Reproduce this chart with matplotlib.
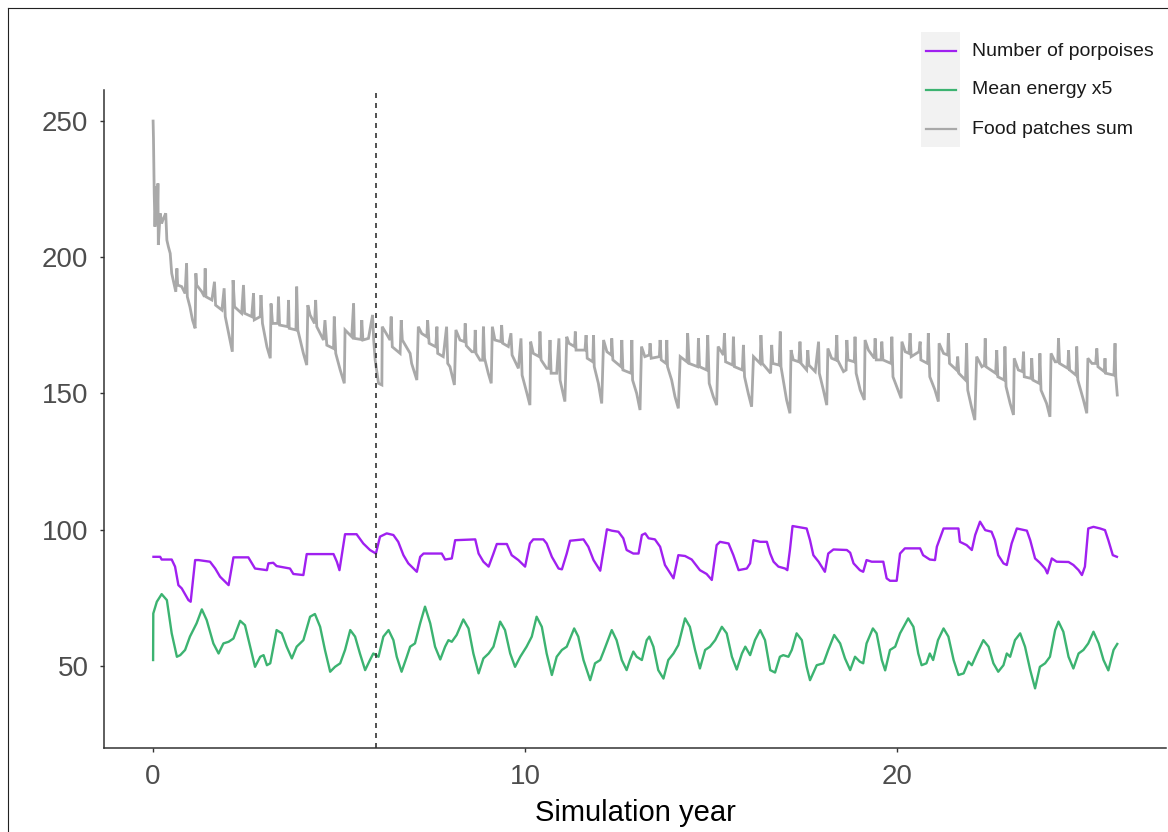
import matplotlib
matplotlib.use("Agg")
import matplotlib.pyplot as plt
from matplotlib.lines import Line2D
from matplotlib.patches import Rectangle

plt.rcParams["font.family"] = ["Liberation Sans", "DejaVu Sans"]

# ---------------------------------------------------------------- data
series_labels = ["Number of porpoises", "Mean energy x5", "Food patches sum"]
series_colors = ["#A020F0", "#3CB371", "#A9A9A9"]
burn_in_year = 6.0
x_ticks = [0, 10, 20]
y_ticks = [50, 100, 150, 200, 250]

porpoise_year = [
    0.01, 0.19, 0.23, 0.50, 0.59, 0.68, 0.77, 0.95, 1.01,
    1.13, 1.22, 1.53, 1.67, 1.80, 1.94, 2.03,
    2.16, 2.56, 2.74, 3.06, 3.10, 3.23, 3.32, 3.68, 3.77, 4.04,
    4.13, 4.85, 4.94, 5.01, 5.16, 5.47, 5.65, 5.83, 5.99,
    6.10, 6.28, 6.46, 6.59, 6.73, 6.86, 7.00, 7.09,
    7.18, 7.27, 7.76, 7.85, 8.03, 8.12, 8.66, 8.75, 8.88, 9.02,
    9.15, 9.24, 9.51, 9.64, 9.82, 10.00,
    10.13, 10.22, 10.49, 10.58, 10.72, 10.90, 10.99,
    11.12, 11.21, 11.57, 11.70, 11.84, 12.02,
    12.11, 12.20, 12.33, 12.51, 12.64, 12.73, 12.91, 13.05,
    13.14, 13.23, 13.32, 13.49, 13.63, 13.76, 13.99,
    14.12, 14.30, 14.48, 14.70, 14.88, 15.02,
    15.15, 15.24, 15.47, 15.60, 15.74, 15.96, 16.05,
    16.14, 16.32, 16.50, 16.59, 16.68, 16.81, 16.99, 17.05,
    17.12, 17.19, 17.57, 17.66, 17.75, 17.89, 18.06,
    18.15, 18.29, 18.65, 18.74, 18.83, 19.00, 19.09,
    19.18, 19.32, 19.63, 19.72, 19.81, 19.99,
    20.08, 20.21, 20.62, 20.70, 20.88, 21.02,
    21.07, 21.25, 21.65, 21.69, 21.87, 22.01,
    22.10, 22.23, 22.37, 22.54, 22.63, 22.72, 22.86, 22.95,
    23.08, 23.22, 23.49, 23.58, 23.71, 23.84, 23.98, 24.04,
    24.16, 24.29, 24.61, 24.74, 24.88, 24.97,
    25.05, 25.14, 25.28, 25.46, 25.59, 25.68, 25.80, 25.91,
]
porpoise_n = [
    90.0, 90.0, 89.0, 89.0, 86.4, 79.6, 78.4, 74.1, 73.5,
    88.8, 88.8, 88.2, 85.7, 82.7, 80.8, 79.6,
    89.8, 89.8, 85.7, 85.1, 87.6, 87.8, 86.6, 85.7, 83.7, 83.3,
    91.0, 91.0, 88.2, 85.1, 98.3, 98.3, 94.9, 92.5, 91.2,
    97.4, 98.6, 98.0, 95.5, 90.6, 87.6, 85.7, 84.5,
    90.0, 91.2, 91.2, 89.0, 89.4, 96.1, 96.4, 91.2, 88.2, 86.4,
    91.2, 94.7, 94.7, 90.6, 88.8, 86.4,
    94.9, 96.4, 96.4, 94.9, 90.0, 85.7, 85.4,
    91.2, 95.9, 96.4, 93.7, 88.8, 84.9,
    92.5, 100.1, 99.6, 99.2, 96.8, 92.5, 91.2, 91.2,
    98.0, 98.6, 96.8, 96.4, 93.7, 87.0, 82.1,
    90.6, 90.3, 89.0, 85.1, 83.7, 81.5,
    94.3, 95.5, 94.9, 90.6, 85.1, 85.7, 87.6,
    96.1, 95.5, 95.5, 91.2, 88.2, 86.4, 85.7, 85.1,
    92.5, 101.3, 100.4, 96.1, 90.6, 88.2, 84.5,
    91.2, 92.7, 92.5, 91.5, 87.6, 85.1, 84.5,
    88.8, 88.2, 88.2, 82.1, 81.2, 81.2,
    91.2, 93.1, 93.1, 90.6, 89.0, 88.8,
    93.7, 100.4, 100.4, 95.5, 94.3, 92.5,
    98.0, 102.9, 99.8, 99.2, 96.1, 90.6, 87.6, 87.0,
    94.9, 100.4, 99.6, 96.1, 89.4, 87.8, 85.7, 83.9,
    89.4, 88.2, 88.1, 87.0, 85.1, 83.3,
    86.4, 100.4, 101.0, 100.4, 99.8, 96.1, 90.6, 90.0,
]

energy_year = [
    0.00, 0.005, 0.10, 0.23, 0.37, 0.50, 0.64, 0.73, 0.86, 0.99,
    1.17, 1.31, 1.44, 1.62, 1.76, 1.89, 2.03, 2.16,
    2.34, 2.47, 2.61, 2.74, 2.88, 2.97, 3.06, 3.15,
    3.32, 3.46, 3.59, 3.73, 3.86, 4.04, 4.22,
    4.35, 4.49, 4.62, 4.76, 4.89, 5.03, 5.16,
    5.30, 5.43, 5.56, 5.70, 5.83, 5.92, 6.06, 6.19,
    6.33, 6.46, 6.55, 6.68, 6.82, 6.91, 7.04, 7.18,
    7.31, 7.45, 7.58, 7.72, 7.85, 7.94, 8.03, 8.16,
    8.34, 8.48, 8.61, 8.75, 8.88, 9.02, 9.15,
    9.33, 9.46, 9.60, 9.73, 9.87, 10.04, 10.18,
    10.31, 10.45, 10.58, 10.72, 10.85, 10.99, 11.12,
    11.32, 11.43, 11.57, 11.75, 11.88, 12.02, 12.11,
    12.33, 12.46, 12.60, 12.73, 12.82, 12.91, 13.00, 13.14, 13.27,
    13.34, 13.45, 13.58, 13.72, 13.85, 13.99, 14.12,
    14.30, 14.43, 14.57, 14.70, 14.84, 14.97, 15.11,
    15.29, 15.42, 15.56, 15.69, 15.83, 15.92, 16.05, 16.18,
    16.32, 16.45, 16.59, 16.72, 16.85, 16.94, 17.08, 17.17,
    17.30, 17.44, 17.57, 17.66, 17.84, 18.02, 18.15,
    18.31, 18.47, 18.60, 18.74, 18.87, 19.00, 19.09, 19.18,
    19.35, 19.45, 19.59, 19.68, 19.81, 19.95, 20.08,
    20.30, 20.44, 20.57, 20.66, 20.79, 20.88, 20.97, 21.10,
    21.25, 21.38, 21.52, 21.65, 21.79, 21.92, 22.01, 22.15,
    22.32, 22.46, 22.59, 22.72, 22.86, 22.95, 23.04, 23.17,
    23.31, 23.44, 23.58, 23.71, 23.84, 23.98, 24.11, 24.25,
    24.34, 24.47, 24.61, 24.74, 24.88, 25.01, 25.14,
    25.28, 25.42, 25.55, 25.68, 25.82, 25.92,
]
energy_x5 = [
    52.1, 69.2, 73.5, 76.3, 74.1, 61.9, 53.3, 53.9, 55.8, 60.7,
    65.6, 70.7, 66.8, 58.2, 54.5, 58.2, 58.8, 60.0,
    66.5, 64.9, 57.0, 49.6, 53.3, 53.9, 50.2, 50.9,
    63.1, 61.9, 57.0, 52.7, 57.0, 59.4, 68.0,
    69.0, 64.3, 55.8, 47.8, 49.6, 50.9, 55.8,
    63.1, 60.7, 54.5, 48.4, 52.1, 54.5, 53.3, 60.7,
    63.1, 59.4, 53.3, 47.8, 53.3, 57.0, 58.2, 65.6,
    71.7, 65.6, 57.0, 52.3, 57.0, 59.4, 58.8, 61.3,
    67.0, 63.7, 54.5, 47.2, 52.7, 54.5, 57.0,
    66.2, 63.1, 54.5, 49.6, 53.3, 57.0, 60.7,
    68.0, 64.3, 54.5, 46.6, 53.3, 55.8, 57.0,
    63.7, 60.7, 52.1, 44.7, 50.9, 52.1, 55.2,
    63.1, 59.4, 52.1, 48.4, 52.1, 55.2, 53.3, 52.1, 59.4,
    60.7, 57.0, 48.4, 45.3, 52.1, 54.5, 57.6,
    67.4, 64.3, 55.8, 49.0, 55.8, 57.0, 59.4,
    64.3, 61.9, 53.3, 48.6, 54.5, 57.0, 53.9, 59.4,
    63.1, 59.4, 48.4, 47.5, 53.3, 53.9, 53.3, 55.8,
    61.9, 59.4, 49.6, 44.7, 50.2, 50.9, 55.8,
    61.3, 58.2, 52.7, 48.4, 53.3, 51.5, 50.9, 58.2,
    63.7, 61.9, 52.1, 48.3, 55.8, 57.0, 61.9,
    67.4, 64.3, 54.5, 50.2, 50.9, 54.5, 52.1, 59.4,
    63.7, 60.7, 52.1, 46.6, 47.2, 51.5, 50.2, 54.5,
    59.4, 57.0, 50.9, 47.8, 50.2, 54.5, 53.3, 59.4,
    61.9, 57.0, 48.4, 41.7, 49.6, 50.9, 53.3, 63.1,
    66.2, 62.5, 53.3, 49.0, 54.5, 55.8, 58.2,
    62.5, 58.2, 52.1, 48.3, 55.8, 58.0,
]

food_year = [
    0.00, 0.01, 0.03, 0.05, 0.08, 0.11, 0.13, 0.14, 0.19, 0.23, 0.28, 0.34, 0.37,
    0.41, 0.46, 0.50, 0.57, 0.61, 0.64, 0.66, 0.77, 0.86, 0.90, 0.92, 0.99, 1.06, 1.13,
    1.15, 1.17, 1.31, 1.38, 1.40, 1.42, 1.58, 1.65, 1.68, 1.85, 1.91, 1.94, 2.03, 2.13,
    2.15, 2.19, 2.38, 2.43, 2.46, 2.65, 2.70, 2.72, 2.88, 2.90, 2.94, 3.06, 3.15,
    3.17, 3.21, 3.35, 3.37, 3.40, 3.62, 3.64, 3.66, 3.84, 3.86, 3.89, 4.04, 4.13,
    4.16, 4.22, 4.34, 4.37, 4.40, 4.58, 4.62, 4.67, 4.85, 4.87, 4.91, 5.03, 5.14,
    5.16, 5.34, 5.39, 5.41, 5.59, 5.61, 5.64, 5.79, 5.90, 5.93, 5.97, 6.06, 6.15,
    6.16, 6.37, 6.40, 6.43, 6.64, 6.67, 6.70, 6.91, 6.95, 7.09,
    7.13, 7.22, 7.36, 7.38, 7.42, 7.60, 7.63, 7.65, 7.80, 7.89, 7.92, 7.98, 8.10,
    8.14, 8.25, 8.37, 8.39, 8.42, 8.57, 8.64, 8.66, 8.68, 8.79, 8.86, 8.88, 8.91, 9.01, 9.09,
    9.12, 9.19, 9.35, 9.37, 9.40, 9.55, 9.62, 9.65, 9.82, 9.89, 9.92, 10.05, 10.13,
    10.15, 10.22, 10.38, 10.40, 10.43, 10.58, 10.64, 10.67, 10.70, 10.85, 10.91, 10.94, 10.98, 11.07,
    11.12, 11.18, 11.33, 11.35, 11.37, 11.61, 11.64, 11.67, 11.82, 11.84, 11.86, 11.97, 12.06,
    12.11, 12.20, 12.32, 12.33, 12.36, 12.58, 12.60, 12.63, 12.85, 12.87, 12.89, 13.00, 13.09,
    13.13, 13.22, 13.34, 13.36, 13.39, 13.61, 13.63, 13.66, 13.79, 13.81, 13.83, 13.94, 14.03, 14.12,
    14.17, 14.35, 14.37, 14.41, 14.64, 14.66, 14.69, 14.88, 14.91, 14.95, 15.06, 15.15,
    15.19, 15.33, 15.36, 15.39, 15.58, 15.60, 15.63, 15.84, 15.87, 15.90, 16.00, 16.09,
    16.14, 16.32, 16.34, 16.38, 16.60, 16.63, 16.66, 16.83, 16.86, 16.88, 17.03, 17.12,
    17.15, 17.21, 17.36, 17.39, 17.42, 17.57, 17.60, 17.63, 17.80, 17.89, 17.91, 18.02, 18.11,
    18.14, 18.24, 18.35, 18.38, 18.40, 18.56, 18.63, 18.65, 18.68, 18.85, 18.87, 18.90, 19.01, 19.12,
    19.14, 19.23, 19.39, 19.41, 19.44, 19.57, 19.59, 19.62, 19.84, 19.86, 19.89, 19.99, 20.11,
    20.13, 20.22, 20.32, 20.35, 20.38, 20.59, 20.62, 20.64, 20.82, 20.84, 20.88, 21.02, 21.11,
    21.13, 21.25, 21.36, 21.38, 21.41, 21.60, 21.63, 21.66, 21.84, 21.87, 21.90, 22.00, 22.09,
    22.14, 22.28, 22.35, 22.37, 22.39, 22.65, 22.68, 22.71, 22.88, 22.90, 22.93, 23.04, 23.13,
    23.15, 23.26, 23.37, 23.40, 23.42, 23.60, 23.62, 23.65, 23.82, 23.84, 23.87, 24.02, 24.11,
    24.14, 24.25, 24.32, 24.34, 24.37, 24.59, 24.61, 24.64, 24.81, 24.83, 24.86, 25.01, 25.10,
    25.13, 25.24, 25.34, 25.37, 25.40, 25.57, 25.59, 25.61, 25.83, 25.86, 25.88, 25.92,
]
food_sum = [
    250.0, 243.6, 223.4, 211.2, 225.9, 212.0, 227.1, 204.5, 216.1, 212.4, 214.3, 216.1, 206.3,
    203.9, 201.4, 194.1, 189.8, 187.3, 195.9, 189.8, 189.2, 186.7, 197.7, 185.5, 181.8, 176.9, 173.9,
    194.1, 189.8, 187.3, 185.5, 195.9, 185.5, 184.3, 191.0, 182.4, 180.6, 188.6, 178.2, 172.0, 165.3,
    191.6, 181.8, 179.4, 189.8, 179.4, 178.2, 186.7, 177.0, 178.2, 186.1, 175.7, 167.1, 162.9,
    183.0, 175.7, 175.7, 185.5, 175.1, 174.5, 184.3, 173.9, 173.3, 189.2, 173.3, 164.7, 160.4,
    182.4, 178.8, 175.7, 184.3, 174.5, 169.6, 176.9, 167.7, 166.5, 178.2, 164.7, 158.6, 153.7,
    173.3, 170.8, 183.0, 170.2, 169.8, 176.9, 169.6, 170.2, 178.8, 169.6, 162.2, 153.7, 153.1,
    174.5, 169.6, 178.2, 167.1, 164.7, 176.9, 169.6, 164.7, 161.0, 154.9,
    174.5, 172.0, 170.8, 176.9, 168.4, 167.1, 174.5, 164.7, 163.5, 174.5, 161.0, 159.8, 153.1,
    173.3, 169.6, 169.0, 175.7, 167.5, 165.3, 165.3, 173.3, 164.7, 162.2, 162.2, 174.5, 162.9, 157.4, 153.7,
    174.5, 169.6, 169.0, 175.1, 168.4, 167.2, 172.1, 164.1, 159.2, 170.2, 156.7, 150.0, 145.7,
    169.0, 164.7, 163.5, 172.7, 162.3, 159.2, 159.2, 169.6, 157.4, 157.4, 170.2, 154.9, 152.5, 147.0,
    170.8, 168.4, 167.2, 172.7, 165.9, 165.9, 171.4, 162.9, 161.6, 171.4, 159.8, 153.7, 146.3,
    169.6, 165.3, 164.1, 170.2, 162.3, 159.8, 169.6, 158.6, 157.4, 169.6, 154.9, 150.0, 143.9,
    167.2, 163.5, 164.1, 168.4, 162.9, 163.5, 169.6, 162.3, 161.0, 169.6, 159.8, 154.9, 148.8, 144.5,
    163.5, 161.6, 172.1, 161.0, 159.8, 170.2, 159.8, 158.6, 171.4, 153.7, 148.8, 145.7,
    167.2, 164.1, 172.1, 161.6, 160.4, 170.8, 159.8, 158.6, 167.8, 156.1, 150.0, 145.1,
    163.5, 161.0, 171.4, 161.0, 157.4, 167.8, 161.0, 160.4, 172.7, 159.8, 147.6, 142.7,
    165.9, 162.3, 161.6, 169.0, 161.0, 158.6, 165.9, 160.4, 158.0, 169.0, 157.4, 151.2, 145.7,
    166.5, 162.9, 162.3, 171.4, 162.3, 158.0, 158.6, 169.6, 162.3, 161.6, 170.8, 157.4, 151.2, 147.6,
    169.6, 165.9, 162.9, 170.2, 162.3, 162.3, 169.0, 162.3, 161.0, 170.8, 156.1, 152.5, 148.2,
    169.0, 165.3, 164.7, 172.1, 163.5, 165.3, 169.0, 162.3, 161.0, 172.1, 156.1, 151.2, 147.0,
    168.4, 164.7, 164.1, 172.1, 161.0, 158.6, 163.5, 157.4, 154.9, 168.4, 151.2, 145.1, 140.2,
    163.5, 159.8, 160.4, 170.2, 159.8, 157.4, 165.9, 156.1, 154.9, 167.2, 152.5, 146.3, 142.1,
    162.9, 158.6, 158.0, 165.3, 156.1, 155.5, 162.9, 154.9, 153.7, 164.7, 151.2, 146.3, 141.4,
    164.7, 161.6, 161.6, 170.2, 161.0, 159.2, 165.9, 158.6, 156.7, 167.2, 154.9, 147.6, 142.7,
    162.9, 161.0, 161.0, 166.5, 159.8, 158.0, 162.9, 157.4, 156.7, 168.4, 156.1, 149.4,
]

# ---------------------------------------------------------------- figure
W, H = 1168, 832
fig = plt.figure(figsize=(W / 100, H / 100), dpi=100)
fig.patch.set_facecolor("white")

ax = fig.add_axes([104 / W, 84 / H, 1062 / W, 658 / H])
ax.set_facecolor("white")

ax.plot(food_year, food_sum, color=series_colors[2], lw=2.0, zorder=2,
        solid_joinstyle="miter")
ax.plot(porpoise_year, porpoise_n, color=series_colors[0], lw=1.7, zorder=3)
ax.plot(energy_year, energy_x5, color=series_colors[1], lw=1.7, zorder=3)
ax.axvline(burn_in_year, color="#333333", lw=1.2, ls=(0, (3, 3)), zorder=4)

ax.set_xlim(-1.32, 27.23)
ax.set_ylim(19.8, 261.4)
ax.set_xticks(x_ticks)
ax.set_yticks(y_ticks)

for side in ("top", "right"):
    ax.spines[side].set_visible(False)
for side in ("left", "bottom"):
    ax.spines[side].set_color("#333333")
    ax.spines[side].set_linewidth(1.1)

ax.tick_params(axis="both", length=3.2, width=1.0, color="#333333",
               labelsize=20, labelcolor="#4D4D4D", pad=8)
ax.set_xlabel("Simulation year", fontsize=21, color="black", labelpad=7)

# legend: grey key panel with coloured strokes and labels
fig.add_artist(Rectangle((921 / W, 1 - 147 / H), 39 / W, 115 / H,
                         transform=fig.transFigure, facecolor="#F2F2F2",
                         edgecolor="none", zorder=1))
for i, (lab, col) in enumerate(zip(series_labels, series_colors)):
    yk = 1 - (51 + 39 * i) / H
    fig.add_artist(Line2D([926 / W, 956 / W], [yk, yk], transform=fig.transFigure,
                          color=col, lw=1.6, zorder=2))
    fig.text(972 / W, yk, lab, fontsize=14, color="#1A1A1A", va="center", ha="left")

# outer frame (top and left edges)
fig.add_artist(Line2D([7.5 / W, 1.0], [1 - 8 / H, 1 - 8 / H],
                      transform=fig.transFigure, color="#222222", lw=0.8))
fig.add_artist(Line2D([7.5 / W, 7.5 / W], [0.0, 1 - 8 / H],
                      transform=fig.transFigure, color="#222222", lw=0.8))

fig.savefig("out.png", dpi=100)
